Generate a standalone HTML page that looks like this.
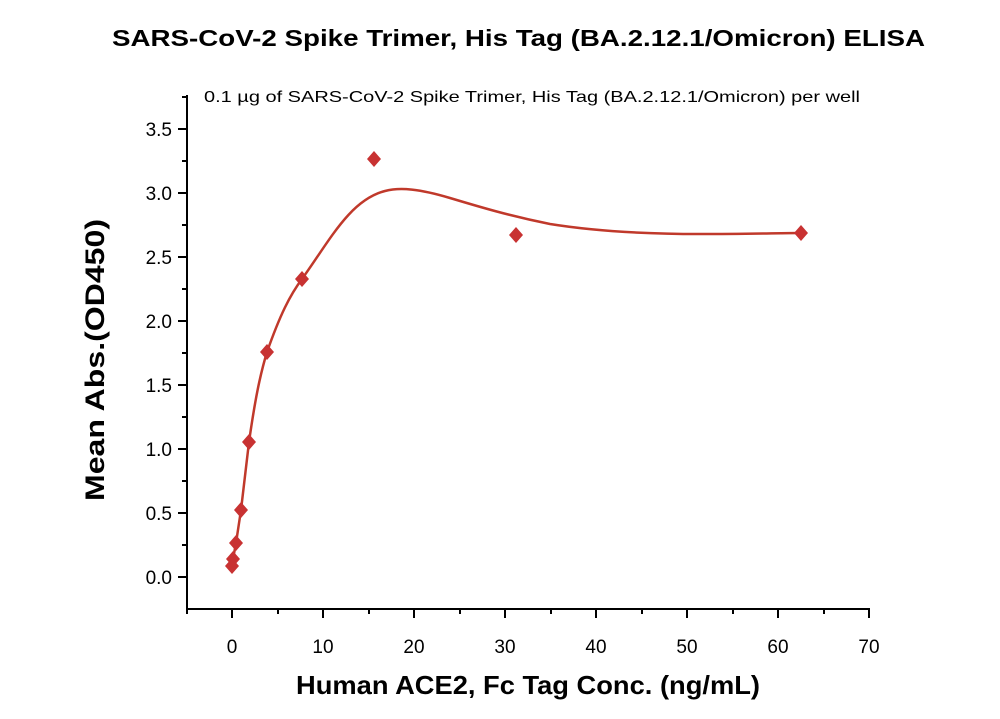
<!DOCTYPE html><html><head><style>body{margin:0;background:#fff}</style></head><body>
<svg width="1000" height="714" xmlns="http://www.w3.org/2000/svg" font-family="Liberation Sans, sans-serif">
<text x="112" y="46" font-size="23" font-weight="bold" textLength="813" lengthAdjust="spacingAndGlyphs">SARS-CoV-2 Spike Trimer, His Tag (BA.2.12.1/Omicron) ELISA</text>
<text x="204" y="102" font-size="16" textLength="656" lengthAdjust="spacingAndGlyphs">0.1 µg of SARS-CoV-2 Spike Trimer, His Tag (BA.2.12.1/Omicron) per well</text>
<g stroke="#000" stroke-width="2" fill="none">
<path d="M187 95V609H870"/>
<path d="M187 577h-9M187 513h-9M187 449h-9M187 385h-9M187 321h-9M187 257h-9M187 193h-9M187 129h-9"/>
<path d="M187 545h-5M187 481h-5M187 417h-5M187 353h-5M187 289h-5M187 225h-5M187 161h-5M187 97h-5"/>
<path d="M232 609v9M323 609v9M414 609v9M505 609v9M596 609v9M687 609v9M778 609v9M869 609v9"/>
<path d="M187 609v5M278 609v5M369 609v5M460 609v5M551 609v5M642 609v5M733 609v5M824 609v5"/>
</g>
<g font-size="19" text-anchor="end">
<text x="172" y="584">0.0</text><text x="172" y="520">0.5</text><text x="172" y="456">1.0</text><text x="172" y="392">1.5</text><text x="172" y="328">2.0</text><text x="172" y="264">2.5</text><text x="172" y="200">3.0</text><text x="172" y="136">3.5</text>
</g>
<g font-size="19" text-anchor="middle">
<text x="232" y="653">0</text><text x="323" y="653">10</text><text x="414" y="653">20</text><text x="505" y="653">30</text><text x="596" y="653">40</text><text x="687" y="653">50</text><text x="778" y="653">60</text><text x="869" y="653">70</text>
</g>
<text x="296" y="694" font-size="26" font-weight="bold" textLength="464" lengthAdjust="spacingAndGlyphs">Human ACE2, Fc Tag Conc. (ng/mL)</text>
<text transform="translate(104,360) rotate(-90)" text-anchor="middle" font-size="27" font-weight="bold" textLength="282" lengthAdjust="spacingAndGlyphs">Mean Abs.(OD450)</text>
<path d="M232 566L233 559L236 543L241 510L249 442C255 400 260 375 267 352C280 315 290 295 302 279C330 240 350 200 385 191C400 187 420 189 450 198C480 207 510 216 550 224C600 232 650 234 700 234C750 234 780 233 801 233" stroke="#c0392b" stroke-width="2.5" fill="none"/>
<g fill="#c83232">
<path d="M232 558l7 8-7 8-7-8z"/><path d="M233 551l7 8-7 8-7-8z"/><path d="M236 535l7 8-7 8-7-8z"/><path d="M241 502l7 8-7 8-7-8z"/><path d="M249 434l7 8-7 8-7-8z"/><path d="M267 344l7 8-7 8-7-8z"/><path d="M302 271l7 8-7 8-7-8z"/><path d="M374 151l7 8-7 8-7-8z"/><path d="M516 227l7 8-7 8-7-8z"/><path d="M801 225l7 8-7 8-7-8z"/>
</g>
</svg>
</body></html>
